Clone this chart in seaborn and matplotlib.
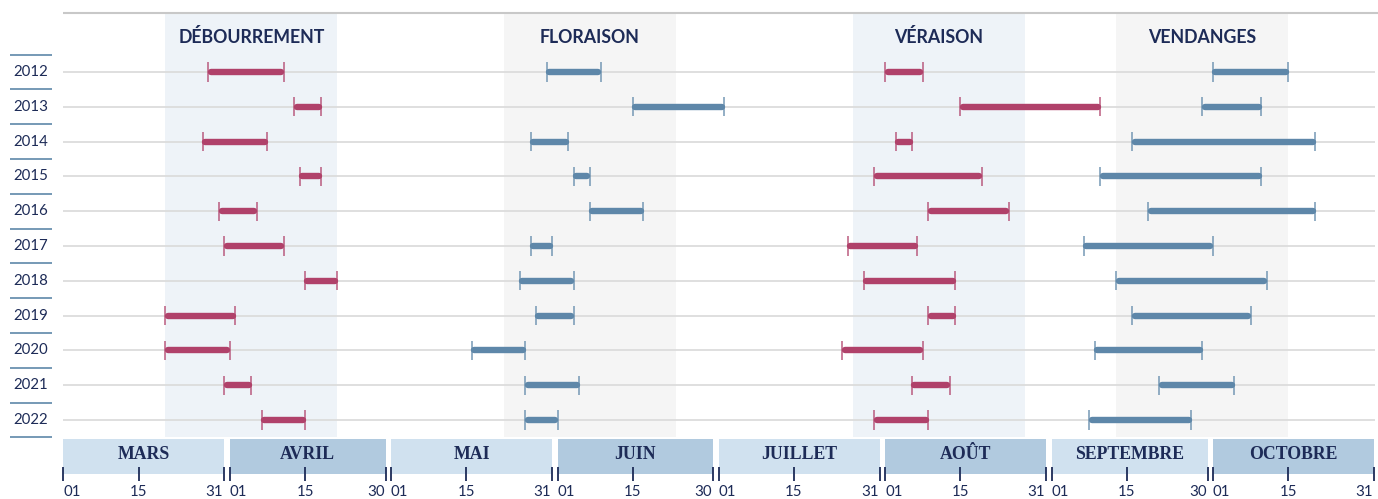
import numpy as np
import pandas as pd
import matplotlib.pyplot as plt
import seaborn as sns

sns.set_style('white')
plt.rcParams['font.family'] = ['Lato', 'DejaVu Sans']

# --- data (dates as MM-DD) ---
years = [2012, 2013, 2014, 2015, 2016, 2017, 2018, 2019, 2020, 2021, 2022]

phases = ['DÉBOURREMENT', 'FLORAISON', 'VÉRAISON', 'VENDANGES']
phase_windows = [('03-20', '04-21'), ('05-22', '06-23'), ('07-26', '08-27'), ('09-13', '10-15')]

debourrement_start = ['03-28', '04-13', '03-27', '04-14', '03-30', '03-31', '04-15', '03-20', '03-20', '03-31', '04-07']
debourrement_end = ['04-11', '04-18', '04-08', '04-18', '04-06', '04-11', '04-21', '04-02', '04-01', '04-05', '04-15']

floraison_start = ['05-30', '06-15', '05-27', '06-04', '06-07', '05-27', '05-25', '05-28', '05-16', '05-26', '05-26']
floraison_end = ['06-09', '07-02', '06-03', '06-07', '06-17', '05-31', '06-04', '06-04', '05-26', '06-05', '06-01']

veraison_start = ['08-01', '08-15', '08-03', '07-30', '08-09', '07-25', '07-28', '08-09', '07-24', '08-06', '07-30']
veraison_end = ['08-08', '09-10', '08-06', '08-19', '08-24', '08-07', '08-14', '08-14', '08-08', '08-13', '08-09']

vendanges_start = ['10-01', '09-29', '09-16', '09-10', '09-19', '09-07', '09-13', '09-16', '09-09', '09-21', '09-08']
vendanges_end = ['10-15', '10-10', '10-20', '10-10', '10-20', '10-01', '10-11', '10-08', '09-29', '10-05', '09-27']

months = ['MARS', 'AVRIL', 'MAI', 'JUIN', 'JUILLET', 'AOÛT', 'SEPTEMBRE', 'OCTOBRE']
month_days = [31, 30, 31, 30, 31, 31, 30, 31]

navy = '#1d2b57'
red = '#b0416a'
blue = '#5e87a9'
phase_colors = {'DÉBOURREMENT': red, 'FLORAISON': blue, 'VÉRAISON': red, 'VENDANGES': blue}
phase_bg = ['#eef3f8', '#f5f5f5', '#eef3f8', '#f5f5f5']
month_bg = ['#d0e1ef', '#b1cadf']


def day(s):
    return (pd.Timestamp('2023-' + s) - pd.Timestamp('2023-03-01')).days


starts = [debourrement_start, floraison_start, veraison_start, vendanges_start]
ends = [debourrement_end, floraison_end, veraison_end, vendanges_end]
rows = []
for p, st, en in zip(phases, starts, ends):
    for i, y in enumerate(years):
        rows.append({'year': y, 'row': i, 'phase': p, 'start': day(st[i]), 'end': day(en[i])})
df = pd.DataFrame(rows)
df['color'] = df['phase'].map(phase_colors)

caps = pd.concat([df[['row', 'phase']].assign(x=df['start']),
                  df[['row', 'phase']].assign(x=df['end'])])

# --- layout ---
px_day = 5.372
px_row = 34.8
fig = plt.figure(figsize=(13.78, 4.99), dpi=100)
ax = fig.add_axes([0, 0, 1, 1])
ax.set_xlim(-63.3 / px_day, (1378 - 63.3) / px_day)
ax.set_ylim((499 - 72) / px_row, -72 / px_row)
ax.axis('off')

n_days = sum(month_days)
top = -1.7

# phase windows
for (a, b), c, name in zip(phase_windows, phase_bg, phases):
    ax.fill_between([day(a), day(b)], top, 10.5, color=c, lw=0, zorder=0)
    ax.text((day(a) + day(b)) / 2, -1.0, name, ha='center', va='center',
            fontsize=12.8, fontweight='bold', color=navy)

ax.hlines(top, 0, n_days + 0.7, color='#c8c8c8', lw=1.5, zorder=1)
ax.hlines(range(len(years)), 0, n_days - 0.8, color='#dcdcdc', lw=1.3, zorder=1)

# year labels with separators
ax.hlines(np.arange(len(years) + 1) - 0.5, -9.9, -2.1, color=blue, lw=1.2)
for i, y in enumerate(years):
    ax.text(-6.0, i, str(y), ha='center', va='center', fontsize=10.8, color=navy)

# period bars
inset = 0.45
ax.hlines(df['row'], df['start'] + inset, df['end'] - inset, colors=df['color'],
          lw=4.6, capstyle='round', zorder=3)
sns.scatterplot(data=caps, x='x', y='row', hue='phase', palette=phase_colors,
                marker='|', s=190, linewidth=1.1, alpha=0.85, legend=False, ax=ax, zorder=4)
ax.set_xlabel('')
ax.set_ylabel('')

# month strip
s = 0
for k, (m, n) in enumerate(zip(months, month_days)):
    e = s + n - 1
    ax.fill_between([s, e], 10.55, 11.56, color=month_bg[k % 2], lw=0, zorder=1)
    ax.text((s + e) / 2, 11.0, m, ha='center', va='center', fontsize=12.8,
            fontweight='bold', family='Liberation Serif', color=navy)
    ax.vlines([s, s + 14, e], 11.35, 11.75, color=navy, lw=1.3, zorder=2)
    ax.text(s, 12.07, '01', ha='left', va='center', fontsize=10.8, color=navy)
    ax.text(s + 14, 12.07, '15', ha='center', va='center', fontsize=10.8, color=navy)
    ax.text(e - 0.2, 12.07, str(n), ha='right', va='center', fontsize=10.8, color=navy)
    s += n

fig.savefig('out.png', dpi=100)
